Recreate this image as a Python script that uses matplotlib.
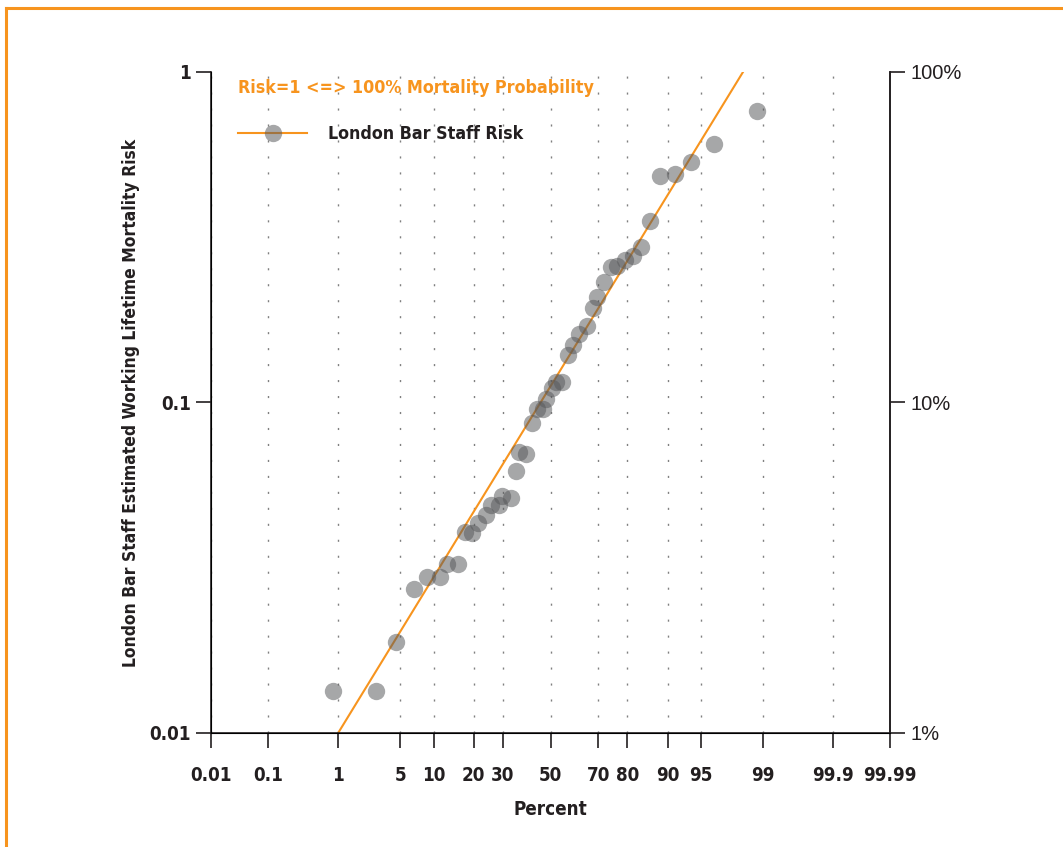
import math
import numpy as np
import matplotlib
matplotlib.use("Agg")
from matplotlib import pyplot as plt
from matplotlib.lines import Line2D
from matplotlib.ticker import FixedLocator, FixedFormatter, NullLocator

# ---------------------------------------------------------------- data
percent = [0.86, 2.8, 4.5, 6.7, 8.8, 11.2, 12.8, 15.5, 17.5, 19.6, 21.3,
           23.9, 25.7, 28.6, 29.7, 33.4, 35.3, 36.5, 39.5, 41.8, 44.1, 46.6,
           48.0, 50.5, 52.4, 55.2, 57.6, 59.7, 62.4, 65.4, 67.8, 69.4, 72.0,
           74.6, 76.6, 79.4, 81.8, 84.0, 86.3, 88.5, 91.4, 93.8, 96.3, 98.8]
risk = [0.0134, 0.0134, 0.0189, 0.0273, 0.0297, 0.0297, 0.0325, 0.0324,
        0.0406, 0.0403, 0.0433, 0.0458, 0.0490, 0.0489, 0.0520, 0.0514,
        0.0621, 0.0707, 0.0700, 0.0869, 0.0954, 0.0954, 0.1025, 0.1106,
        0.1153, 0.1153, 0.1389, 0.1493, 0.1609, 0.1708, 0.1928, 0.2081,
        0.2310, 0.2576, 0.2594, 0.2693, 0.2781, 0.2954, 0.3549, 0.4835,
        0.4903, 0.5354, 0.6054, 0.7636]

# fitted lognormal line
fit_percent = [1.0, 98.25]
fit_risk = [0.01, 1.0]

x_ticks = [0.01, 0.1, 1, 5, 10, 20, 30, 50, 70, 80, 90, 95, 99, 99.9, 99.99]
x_labels = ["0.01", "0.1", "1", "5", "10", "20", "30", "50", "70", "80",
            "90", "95", "99", "99.9", "99.99"]
y_ticks = [0.01, 0.1, 1]
y_labels = ["0.01", "0.1", "1"]
y_right_labels = ["1%", "10%", "100%"]

ORANGE = "#f7941e"
GREY = "#58595b"
INK = "#231f20"

# ---------------------------------------------------------------- normal probability scale
_A = [-3.969683028665376e+01, 2.209460984245205e+02, -2.759285104469687e+02,
      1.383577518672690e+02, -3.066479806614716e+01, 2.506628277459239e+00]
_B = [-5.447609879822406e+01, 1.615858368580409e+02, -1.556989798598866e+02,
      6.680131188771972e+01, -1.328068155288572e+01]
_C = [-7.784894002430293e-03, -3.223964580411365e-01, -2.400758277161838e+00,
      -2.549671625950556e+00, 4.374664141464968e+00, 2.938163982698783e+00]
_D = [7.784695709041462e-03, 3.224671290700398e-01, 2.445134137142996e+00,
      3.754408661907416e+00]


def _tail(q):
    num = ((((_C[0]*q + _C[1])*q + _C[2])*q + _C[3])*q + _C[4])*q + _C[5]
    den = (((_D[0]*q + _D[1])*q + _D[2])*q + _D[3])*q + 1
    return num / den


def pct_to_z(pct):
    p = np.clip(np.asarray(pct, dtype=float) / 100.0, 1e-12, 1 - 1e-12)
    out = np.empty_like(p)
    lo = p < 0.02425
    hi = p > 1 - 0.02425
    mid = ~(lo | hi)
    q = p[mid] - 0.5
    r = q*q
    out[mid] = (((((_A[0]*r + _A[1])*r + _A[2])*r + _A[3])*r + _A[4])*r + _A[5])*q / \
               (((((_B[0]*r + _B[1])*r + _B[2])*r + _B[3])*r + _B[4])*r + 1)
    out[lo] = _tail(np.sqrt(-2*np.log(p[lo])))
    out[hi] = -_tail(np.sqrt(-2*np.log(1 - p[hi])))
    return out


_erf = np.vectorize(math.erf)


def z_to_pct(z):
    z = np.asarray(z, dtype=float)
    return 50.0 * (1.0 + _erf(z / math.sqrt(2)))


# ---------------------------------------------------------------- figure
plt.rcParams["font.family"] = ["DejaVu Sans"]
plt.rcParams["font.stretch"] = "condensed"
plt.rcParams["font.weight"] = "bold"
plt.rcParams["axes.labelweight"] = "bold"

FS = 13.5

fig = plt.figure(figsize=(10.63, 8.47), dpi=100)
ax = fig.add_axes([0.1985, 0.1346, 0.6388, 0.7804])

ax.set_xscale("function", functions=(pct_to_z, z_to_pct))
ax.set_yscale("log")
ax.set_xlim(0.01, 99.99)
ax.set_ylim(0.01, 1)

fit_line, = ax.plot(fit_percent, fit_risk, color=ORANGE, lw=1.5, zorder=2)
pts, = ax.plot(percent, risk, "o", color=GREY, alpha=0.53, ms=12.5,
               mec="none", zorder=3)

ax.xaxis.set_major_locator(FixedLocator(x_ticks))
ax.xaxis.set_major_formatter(FixedFormatter(x_labels))
ax.xaxis.set_minor_locator(NullLocator())
ax.yaxis.set_major_locator(FixedLocator(y_ticks))
ax.yaxis.set_major_formatter(FixedFormatter(y_labels))
ax.yaxis.set_minor_locator(NullLocator())

ax.grid(axis="x", color="#808080", linestyle=(0, (1.5, 10)), linewidth=1)

for s in ["left", "bottom", "right"]:
    ax.spines[s].set_linewidth(1.2)
    ax.spines[s].set_color(INK)
ax.spines["top"].set_visible(False)

ax.tick_params(axis="x", direction="out", length=10.5, width=1.2, color=INK,
               labelsize=FS, pad=13, labelcolor=INK)
ax.tick_params(axis="y", direction="out", length=10.5, width=1.2, color=INK,
               labelsize=FS, pad=4, labelcolor=INK)

ax2 = ax.twinx()
ax2.set_yscale("log")
ax2.set_ylim(ax.get_ylim())
ax2.yaxis.set_major_locator(FixedLocator(y_ticks))
ax2.yaxis.set_major_formatter(FixedFormatter(y_right_labels))
ax2.yaxis.set_minor_locator(NullLocator())
ax2.spines["top"].set_visible(False)
ax2.spines["right"].set_linewidth(1.2)
ax2.spines["right"].set_color(INK)
ax2.tick_params(axis="y", direction="out", length=10.5, width=1.2, color=INK,
                labelsize=14.5, pad=4, labelcolor=INK)
for lbl in ax2.get_yticklabels():
    lbl.set_family(["Liberation Sans", "DejaVu Sans"])
    lbl.set_weight("normal")
    lbl.set_stretch("normal")

ax.set_xlabel("Percent", fontsize=FS, labelpad=11, color=INK)
ax.set_ylabel("London Bar Staff Estimated Working Lifetime Mortality Risk",
              fontsize=12.5, labelpad=7, color=INK)

leg = ax.legend([(fit_line, pts)], ["London Bar Staff Risk"],
                title="Risk=1 <=> 100% Mortality Probability",
                loc="upper left", bbox_to_anchor=(238/1063, 1 - 79/847),
                bbox_transform=fig.transFigure, frameon=False,
                borderpad=0, borderaxespad=0, handlelength=3.9,
                handletextpad=1.15, labelspacing=1.0, fontsize=12.8,
                alignment="left",
                title_fontproperties={"size": 12.8, "weight": "bold",
                                      "stretch": "condensed"})
leg.get_title().set_color(ORANGE)
for t in leg.get_texts():
    t.set_color(INK)
leg._legend_box.sep = 20

# orange frame around the figure
fig.add_artist(Line2D([6/1063, 1], [1 - 8/847, 1 - 8/847], transform=fig.transFigure,
                      color=ORANGE, lw=2.2))
fig.add_artist(Line2D([6/1063, 6/1063], [0, 1 - 8/847], transform=fig.transFigure,
                      color=ORANGE, lw=2.2))

fig.savefig("out.png", dpi=100)
